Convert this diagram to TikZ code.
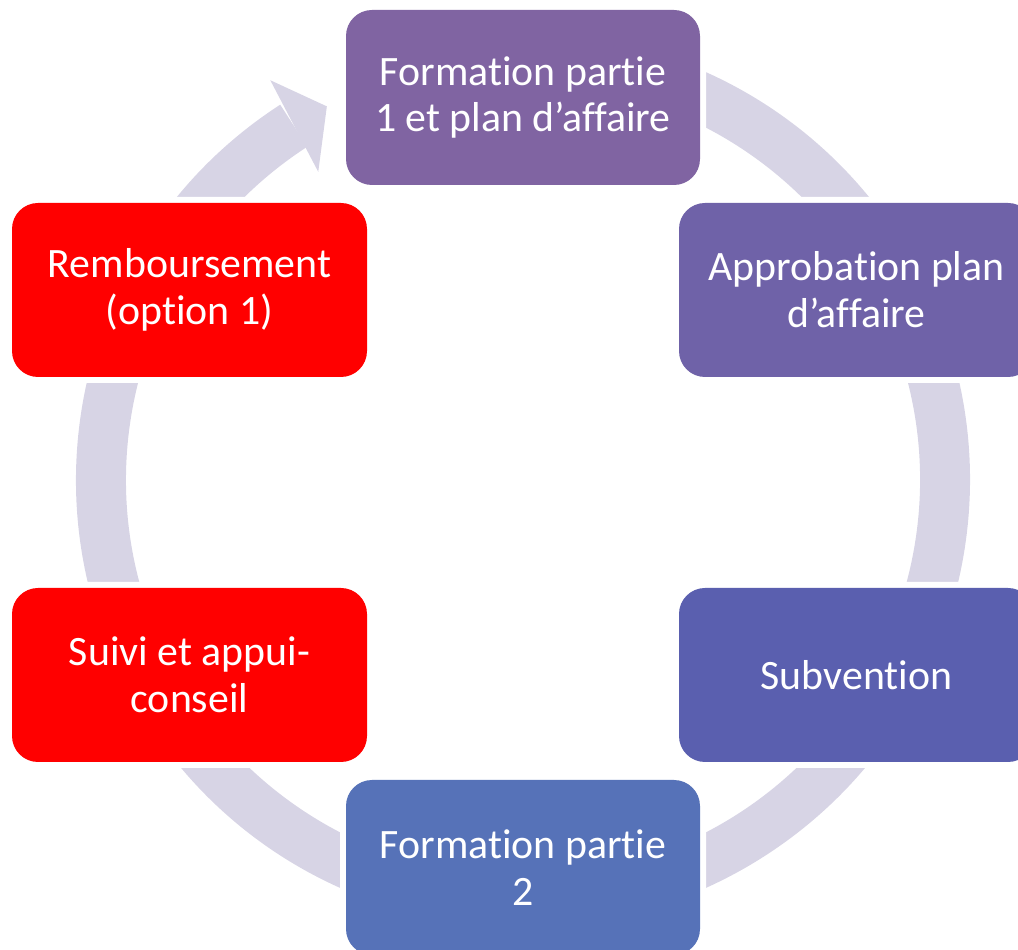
\documentclass[tikz,border=0pt]{standalone}
\usepackage{fontspec}
\setmainfont{Carlito}[Ligatures={NoCommon,NoContextual}]
\definecolor{ringc}{HTML}{D7D4E5}
\definecolor{cA}{HTML}{8064A2}
\definecolor{cB}{HTML}{6F62A8}
\definecolor{cC}{HTML}{5A5FAF}
\definecolor{cD}{HTML}{5672B8}
\definecolor{cR}{HTML}{FF0000}
\tikzset{
  stepbox/.style={rectangle, rounded corners=0.26cm, minimum width=3.54cm,
    minimum height=1.75cm, inner sep=0pt, align=center, text=white,
    font=\fontsize{11.9}{13.3}\selectfont,
    preaction={draw=white, line width=0.12cm}},
  ringfill/.style={fill=ringc}
}
\begin{document}
\begin{tikzpicture}
\useasboundingbox (0,0) rectangle (10.18,-9.50);
\clip (0,0) rectangle (10.18,-9.50);
\coordinate (c) at (5.23,-4.80);
% ring with arrow
\fill[ringfill] ([shift={(5.23,-4.80)}]122.9:4.47)
  arc[start angle=122.9, end angle=474, radius=4.47]
  -- ([shift={(5.23,-4.80)}]474:3.97)
  arc[start angle=474, end angle=122.9, radius=3.97] -- cycle;
\fill[ringfill] ([shift={(5.23,-4.80)}]122.3:4.73)
  -- ([shift={(5.23,-4.80)}]117.7:4.22)
  -- ([shift={(5.23,-4.80)}]123.6:3.70) -- cycle;
% boxes
\node[stepbox, fill=cA] (b1) at (5.23,-0.975) {Formation partie\\1 et plan d’affaire};
\node[stepbox, fill=cB, minimum width=3.55cm, minimum height=1.74cm] (b2) at (8.565,-2.90) {Approbation plan\\d’affaire};
\node[stepbox, fill=cC, minimum width=3.55cm, minimum height=1.74cm] (b3) at (8.565,-6.75) {Subvention};
\node[stepbox, fill=cD] (b4) at (5.23,-8.675) {Formation partie\\2};
\node[stepbox, fill=cR, minimum width=3.55cm, minimum height=1.74cm] (b5) at (1.895,-6.75) {Suivi et appui-\\conseil};
\node[stepbox, fill=cR, minimum width=3.55cm, minimum height=1.74cm] (b6) at (1.895,-2.90) {Remboursement\\(option 1)};
\end{tikzpicture}
\end{document}
